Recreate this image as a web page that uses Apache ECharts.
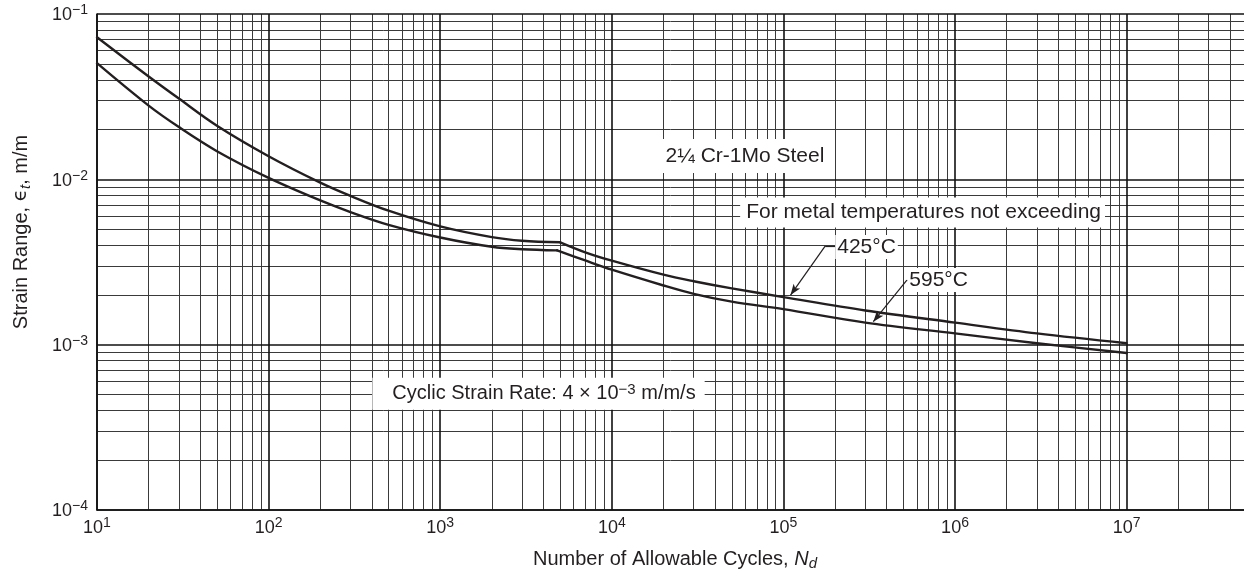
<!DOCTYPE html>
<html>
<head>
<meta charset="utf-8">
<script src="https://cdn.jsdelivr.net/npm/echarts@6/dist/echarts.min.js"></script>
<style>
html,body{margin:0;padding:0;background:#fff;}
#chart{width:1244px;height:580px;}
</style>
</head>
<body>
<div id="chart"></div>
<script>
// ---- data ----
const cycles425 = [10, 20, 30, 50, 100, 200, 300, 500, 1000, 2000, 3000, 5000, 7000, 10000, 20000, 30000, 50000, 100000, 300000, 1000000, 3000000, 10000000];
const strain425 = [0.0723, 0.0419, 0.0308, 0.0211, 0.0138, 0.00955, 0.00794, 0.00646, 0.00519, 0.00447, 0.00425, 0.00416, 0.00362, 0.00322, 0.00265, 0.00242, 0.00219, 0.00194, 0.00161, 0.00136, 0.00117, 0.00102];
const knee425 = 5000;

const cycles595 = [10, 20, 30, 50, 100, 200, 300, 500, 1000, 2000, 3000, 4800, 7000, 10000, 20000, 30000, 50000, 100000, 300000, 1000000, 3000000, 10000000];
const strain595 = [0.0504, 0.0279, 0.0207, 0.0148, 0.0102, 0.00745, 0.00634, 0.00531, 0.00445, 0.00391, 0.00378, 0.00372, 0.00323, 0.00284, 0.00228, 0.00203, 0.00182, 0.00164, 0.00136, 0.00117, 0.00102, 0.00089];
const knee595 = 4800;

const xTickExponents = [1, 2, 3, 4, 5, 6, 7];
const yTickExponents = [-4, -3, -2, -1];
const minorMultipliers = [2, 3, 4, 5, 6, 7, 8, 9];

const X_MIN = 10, X_MAX = 4.83e7;
const Y_MIN = 1e-4, Y_MAX = 1e-1;

// ---- helpers ----
function splitAtKnee(xs, ys, knee) {
  const pre = [], post = [];
  xs.forEach((x, i) => {
    if (x <= knee) pre.push([x, ys[i]]);
    if (x >= knee) post.push([x, ys[i]]);
  });
  return [pre, post];
}
function pow10(e) { return +Math.pow(10, e).toPrecision(12); }

const minorX = [];
xTickExponents.concat([8]).forEach(e => minorMultipliers.forEach(m => {
  const v = +(m * pow10(e)).toPrecision(8);
  if (v > X_MIN && v < X_MAX) minorX.push(v);
}));
const minorY = [];
yTickExponents.forEach(e => minorMultipliers.forEach(m => {
  const v = +(m * pow10(e)).toPrecision(8);
  if (v > Y_MIN && v < Y_MAX) minorY.push(v);
}));
const majorX = xTickExponents.map(pow10);
const majorY = yTickExponents.map(pow10);

function makeFormatter(exps) {
  return function (v) {
    const lg = Math.log10(v);
    const e = Math.round(lg);
    if (Math.abs(lg - e) > 1e-6 || exps.indexOf(e) < 0) return '';
    return '10{sup|' + (e < 0 ? '\u2212' + (-e) : e) + '}';
  };
}

const FONT = "'Liberation Sans', Arial, Helvetica, 'DejaVu Sans', sans-serif";
const INK = '#231f20';

const [u1, u2] = splitAtKnee(cycles425, strain425, knee425);
const [l1, l2] = splitAtKnee(cycles595, strain595, knee595);

function curve(name, data) {
  return {
    name: name, type: 'line', data: data, showSymbol: false, silent: true,
    smooth: 0.35, z: 5,
    lineStyle: { color: INK, width: 2.4, cap: 'round', join: 'round' }
  };
}

function note(text, coord, padding, size, rich) {
  return {
    coord: coord, symbol: 'rect', symbolSize: 1,
    itemStyle: { color: 'rgba(0,0,0,0)' },
    label: {
      show: true, position: 'inside', formatter: text,
      color: INK, fontFamily: FONT, fontSize: size, lineHeight: 24,
      backgroundColor: '#fff', padding: padding,
      rich: rich || {}
    }
  };
}
function seg(a, b, arrow) {
  return [
    { coord: a, symbol: 'none' },
    arrow ? { coord: b, symbol: 'arrow', symbolSize: [6, 11] } : { coord: b, symbol: 'none' }
  ];
}

const tickRich = { sup: { fontSize: 14, lineHeight: 12, verticalAlign: 'top', fontFamily: FONT, color: INK } };

const option = {
  animation: false,
  backgroundColor: '#fff',
  grid: { left: 97, right: 0, top: 14, bottom: 70, containLabel: false, outerBoundsMode: 'none' },
  xAxis: {
    type: 'log', logBase: 10, min: X_MIN, max: X_MAX,
    axisLine: { show: true, lineStyle: { color: '#111', width: 1.6 } },
    axisTick: { show: false },
    splitLine: { show: false },
    axisLabel: {
      formatter: makeFormatter(xTickExponents), margin: 6,
      color: INK, fontFamily: FONT, fontSize: 18, lineHeight: 24, rich: tickRich
    },
    name: 'Number of Allowable Cycles, {i|N}{sub|d}',
    nameLocation: 'middle', nameGap: 37,
    nameTextStyle: {
      color: INK, fontFamily: FONT, fontSize: 20, lineHeight: 24, padding: [0, 0, 0, 9],
      rich: {
        i: { fontStyle: 'italic', fontSize: 20, lineHeight: 24, fontFamily: FONT, color: INK },
        sub: { fontStyle: 'italic', fontSize: 15, lineHeight: 14, verticalAlign: 'bottom', fontFamily: FONT, color: INK }
      }
    }
  },
  yAxis: {
    type: 'log', logBase: 10, min: Y_MIN, max: Y_MAX,
    axisLine: { show: true, lineStyle: { color: '#111', width: 1.6 } },
    axisTick: { show: false },
    splitLine: { show: false },
    axisLabel: {
      formatter: makeFormatter(yTickExponents), margin: 9, padding: [3, 0, 0, 0],
      color: INK, fontFamily: FONT, fontSize: 18, lineHeight: 24, rich: tickRich
    },
    name: 'Strain Range, {e|\u03f5}{sub|t}, m/m',
    nameLocation: 'middle', nameGap: 64,
    nameTextStyle: {
      color: INK, fontFamily: FONT, fontSize: 20, lineHeight: 24, padding: [0, 0, 0, 60],
      rich: {
        e: { fontSize: 20, lineHeight: 24, fontFamily: "'DejaVu Sans', sans-serif", color: INK },
        sub: { fontStyle: 'italic', fontSize: 15, lineHeight: 14, verticalAlign: 'bottom', fontFamily: FONT, color: INK }
      }
    }
  },
  series: [
    {
      name: 'minorGrid', type: 'line', data: [], silent: true, z: 1,
      markLine: {
        silent: true, animation: false, precision: 12, symbol: ['none', 'none'], label: { show: false },
        lineStyle: { type: 'solid', color: '#3a3a3a', width: 1 },
        emphasis: { disabled: true },
        data: minorX.map(v => ({ xAxis: v })).concat(minorY.map(v => ({ yAxis: v })))
      }
    },
    {
      name: 'majorGrid', type: 'line', data: [], silent: true, z: 2,
      markLine: {
        silent: true, animation: false, precision: 12, symbol: ['none', 'none'], label: { show: false },
        lineStyle: { type: 'solid', color: '#111', width: 1.6 },
        emphasis: { disabled: true },
        data: majorX.map(v => ({ xAxis: v })).concat(majorY.map(v => ({ yAxis: v })))
      }
    },
    curve('425°C a', u1), curve('425°C b', u2),
    curve('595°C a', l1), curve('595°C b', l2),
    {
      name: 'notes', type: 'line', data: [], silent: true, z: 10,
      markPoint: {
        silent: true, animation: false,
        data: [
          note('2\u00bc Cr-1Mo Steel', [5.97e4, 0.01384], [5, 4], 21),
          note('For metal temperatures not exceeding', [6.47e5, 0.0063], [3, 4, 3, 6], 21),
          note('425\u00b0C', [3.05e5, 0.0039], [0, 2], 21),
          note('595\u00b0C', [8.02e5, 0.00246], [0, 2], 21),
          note('Cyclic Strain Rate: 4 \u00d7 10{sup|\u22123} m/m/s', [3.74e3, 5.04e-4], [4, 9, 4, 20], 20,
               { sup: { fontSize: 15, lineHeight: 10, verticalAlign: 'top', fontFamily: FONT, color: INK } })
        ]
      },
      markLine: {
        silent: true, animation: false, precision: 12, label: { show: false },
        lineStyle: { type: 'solid', color: INK, width: 1.2 },
        itemStyle: { color: INK },
        emphasis: { disabled: true },
        data: [
          seg([2.08e5, 0.00395], [1.75e5, 0.00395], false),
          seg([1.75e5, 0.00395], [1.10e5, 0.001995], true),
          seg([5.6e5, 0.00246], [5.24e5, 0.00246], false),
          seg([5.24e5, 0.00246], [3.34e5, 0.001377], true)
        ]
      }
    }
  ]
};

const chart = echarts.init(document.getElementById('chart'), null, { renderer: 'canvas' });
chart.setOption(option);
</script>
</body>
</html>
